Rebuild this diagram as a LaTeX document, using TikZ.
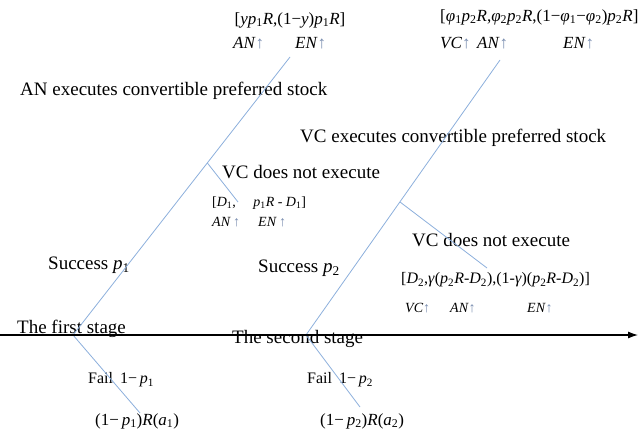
\documentclass[tikz,border=0pt]{standalone}
\usepackage{fontspec}
\setmainfont{Liberation Serif}
\usetikzlibrary{arrows.meta,calc}
\newcommand\iv[1]{\textit{#1}}
\newcommand\sbs[1]{\textsubscript{#1}}
\definecolor{lineblue}{RGB}{140,175,220}
\definecolor{arrcol}{RGB}{120,140,175}
\newcommand\upar{{\color{arrcol}↑}}
\begin{document}
\begin{tikzpicture}[x=1pt,y=-1pt,
  txt/.style={anchor=west,inner sep=0pt,font=\fontsize{19}{21}\selectfont},
  frm/.style={anchor=west,inner sep=0pt,font=\fontsize{17}{19}\selectfont},
  mid/.style={anchor=west,inner sep=0pt,font=\fontsize{16}{18}\selectfont},
  sml/.style={anchor=west,inner sep=0pt,font=\fontsize{14}{16}\selectfont},
  branch/.style={draw=lineblue,line width=0.8pt}]
\useasboundingbox (0,0) rectangle (640,434);
% axis
\coordinate (ax0) at (0,335);
\coordinate (ax1) at (638,335);
% tree points
\coordinate (v1) at (73,335);
\coordinate (t1) at (290,57);
\coordinate (b1s) at ($(v1)!0.619!(t1)$);
\coordinate (b1e) at (238,202);
\coordinate (f1) at (140,413);
\coordinate (v2) at (306,335);
\coordinate (t2) at (500,60);
\coordinate (b2s) at ($(v2)!0.484!(t2)$);
\coordinate (b2e) at (487,268);
\coordinate (f2) at (360,407);
% texts
\node[frm,anchor=center] (top1) at (290,20) {[\iv{yp}\sbs{1}\iv{R},(1−\iv{y})\iv{p}\sbs{1}\iv{R}]};
\node[frm] (top1an) at (233,43) {\iv{AN}\upar};
\node[frm] (top1en) at (295,43) {\iv{EN}\upar};
\node[frm] (top2) at (440,17) {[\iv{φ}\sbs{1}\iv{p}\sbs{2}\iv{R},\iv{φ}\sbs{2}\iv{p}\sbs{2}\iv{R},(1−\iv{φ}\sbs{1}−\iv{φ}\sbs{2})\iv{p}\sbs{2}\iv{R}]};
\node[frm] (top2vc) at (440,43) {\iv{VC}\upar};
\node[frm] (top2an) at (477,43) {\iv{AN}\upar};
\node[frm] (top2en) at (563,43) {\iv{EN}\upar};
\node[txt] (anex) at (20,91) {AN executes convertible preferred stock};
\node[txt] (vcex) at (300,138) {VC executes convertible preferred stock};
\node[txt] (vcno1) at (222,172) {VC does not execute};
\node[sml] (d1) at (212,203) {[\iv{D}\sbs{1},\quad\ \iv{p}\sbs{1}\iv{R} - \iv{D}\sbs{1}]};
\node[sml] (d1an) at (212,222) {\iv{AN}\,\upar};
\node[sml] (d1en) at (258,222) {\iv{EN}\,\upar};
\node[txt] (succ1) at (48,265) {Success \iv{p}\sbs{1}};
\node[txt] (succ2) at (258,268) {Success \iv{p}\sbs{2}};
\node[txt] (vcno2) at (412,240) {VC does not execute};
\node[mid] (d2) at (401,280) {[\iv{D}\sbs{2},\iv{γ}(\iv{p}\sbs{2}\iv{R}-\iv{D}\sbs{2}),(1-\iv{γ})(\iv{p}\sbs{2}\iv{R}-\iv{D}\sbs{2})]};
\node[sml] (d2vc) at (405,308) {\iv{VC}\upar};
\node[sml] (d2an) at (450,308) {\iv{AN}\upar};
\node[sml] (d2en) at (527,308) {\iv{EN}\upar};
\node[txt] (st1) at (17,329) {The first stage};
\node[txt] (st2) at (232,339) {The second stage};
\node[mid] (fail1) at (88,380) {Fail\hspace{7pt}1−\,\iv{p}\sbs{1}};
\node[frm] (res1) at (95,421) {(1−\,\iv{p}\sbs{1})\iv{R}(\iv{a}\sbs{1})};
\node[mid] (fail2) at (307,380) {Fail\hspace{7pt}1−\,\iv{p}\sbs{2}};
\node[frm] (res2) at (320,421) {(1−\,\iv{p}\sbs{2})\iv{R}(\iv{a}\sbs{2})};
% lines
\draw[branch] (v1) -- (t1);
\draw[branch] (b1s) -- (b1e);
\draw[branch] (v1) -- (f1);
\draw[branch] (v2) -- (t2);
\draw[branch] (b2s) -- (b2e);
\draw[branch] (v2) -- (f2);
\draw[line width=1.1pt,-{Latex[length=10pt,width=7pt]}] (ax0) -- (ax1);
\end{tikzpicture}
\end{document}
